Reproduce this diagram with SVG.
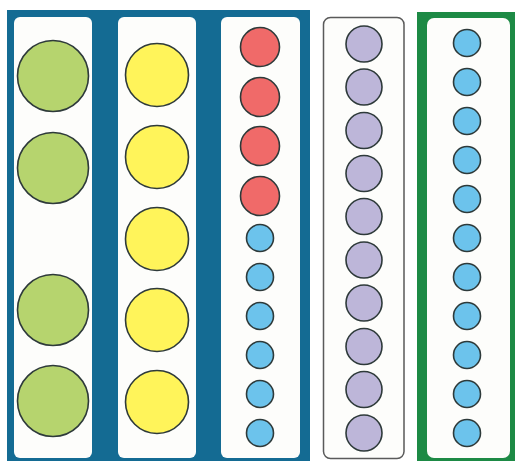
<svg xmlns="http://www.w3.org/2000/svg" width="515" height="461" viewBox="0 0 515 461">
<style>
.panel{fill:#fdfdfb;}
.c{stroke:#2e3a3a;stroke-width:1.6;}
.g{fill:#b6d46e;}
.y{fill:#fff45a;}
.r{fill:#f06a69;}
.p{fill:#bdb6d9;}
.b{fill:#6cc3ec;}
</style>
<rect width="515" height="461" fill="#ffffff"/>
<g id="blue-frame">
<rect x="7" y="10" width="303" height="460" fill="#146b93"/>
</g>
<g id="green-frame">
<rect x="417" y="12" width="100" height="460" fill="#1d8a45"/>
</g>
<g id="col1">
<rect class="panel" x="14" y="17" width="78" height="441" rx="6"/>
<circle class="c g" cx="53" cy="76" r="35.5"/>
<circle class="c g" cx="53" cy="168" r="35.5"/>
<circle class="c g" cx="53" cy="310" r="35.5"/>
<circle class="c g" cx="53" cy="401" r="35.5"/>
</g>
<g id="col2">
<rect class="panel" x="118" y="17" width="78" height="441" rx="6"/>
<circle class="c y" cx="157" cy="75" r="31.5"/>
<circle class="c y" cx="157" cy="157" r="31.5"/>
<circle class="c y" cx="157" cy="239" r="31.5"/>
<circle class="c y" cx="157" cy="320" r="31.5"/>
<circle class="c y" cx="157" cy="402" r="31.5"/>
</g>
<g id="col3">
<rect class="panel" x="221" y="17" width="79" height="441" rx="6"/>
<circle class="c r" cx="260" cy="47" r="19.5"/>
<circle class="c r" cx="260" cy="97" r="19.5"/>
<circle class="c r" cx="260" cy="146" r="19.5"/>
<circle class="c r" cx="260" cy="196" r="19.5"/>
<circle class="c b" cx="260" cy="238" r="13.5"/>
<circle class="c b" cx="260" cy="277" r="13.5"/>
<circle class="c b" cx="260" cy="316" r="13.5"/>
<circle class="c b" cx="260" cy="355" r="13.5"/>
<circle class="c b" cx="260" cy="394" r="13.5"/>
<circle class="c b" cx="260" cy="433" r="13.5"/>
</g>
<g id="col4">
<rect x="323.5" y="17.5" width="80.5" height="441" rx="7" fill="#fdfdfb" stroke="#5a5a5a" stroke-width="1.5"/>
<circle class="c p" cx="364" cy="44" r="18"/>
<circle class="c p" cx="364" cy="87" r="18"/>
<circle class="c p" cx="364" cy="130.5" r="18"/>
<circle class="c p" cx="364" cy="173.5" r="18"/>
<circle class="c p" cx="364" cy="216.5" r="18"/>
<circle class="c p" cx="364" cy="260" r="18"/>
<circle class="c p" cx="364" cy="303" r="18"/>
<circle class="c p" cx="364" cy="346.5" r="18"/>
<circle class="c p" cx="364" cy="389.5" r="18"/>
<circle class="c p" cx="364" cy="433" r="18"/>
</g>
<g id="col5">
<rect class="panel" x="427" y="18" width="83" height="440" rx="7"/>
<circle class="c b" cx="467" cy="43" r="13.5"/>
<circle class="c b" cx="467" cy="82" r="13.5"/>
<circle class="c b" cx="467" cy="121" r="13.5"/>
<circle class="c b" cx="467" cy="160" r="13.5"/>
<circle class="c b" cx="467" cy="199" r="13.5"/>
<circle class="c b" cx="467" cy="238" r="13.5"/>
<circle class="c b" cx="467" cy="277" r="13.5"/>
<circle class="c b" cx="467" cy="316" r="13.5"/>
<circle class="c b" cx="467" cy="355" r="13.5"/>
<circle class="c b" cx="467" cy="394" r="13.5"/>
<circle class="c b" cx="467" cy="433" r="13.5"/>
</g>
<g id="connectors"></g>
</svg>
